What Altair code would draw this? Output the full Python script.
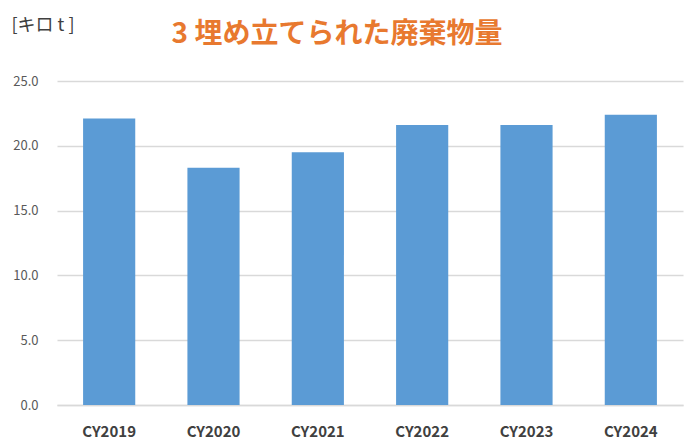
import altair as alt
import pandas as pd

years = ["CY2019", "CY2020", "CY2021", "CY2022", "CY2023", "CY2024"]
values = [22.1, 18.3, 19.5, 21.6, 21.6, 22.4]
title_text = "3 埋め立てられた廃棄物量"
unit_text = "[キロ t ]"

df = pd.DataFrame({"year": years, "value": values})

FONT = "Noto Sans CJK JP"

chart = alt.Chart(df).mark_bar(color="#5B9BD5").encode(
    x=alt.X("year:N", sort=years, title=None,
            scale=alt.Scale(paddingInner=0.5, paddingOuter=0.25),
            axis=alt.Axis(labelAngle=0, labelFont=FONT, labelFontSize=15,
                          labelFontWeight="bold", labelColor="#404040",
                          labelPadding=19, ticks=False, domainColor="#D9D9D9",
                          domainWidth=1.5)),
    y=alt.Y("value:Q", title=unit_text,
            scale=alt.Scale(domain=[0, 25]),
            axis=alt.Axis(values=[0, 5, 10, 15, 20, 25], format=".1f",
                          labelFont=FONT, labelFontSize=13, labelColor="#595959",
                          labelPadding=19, ticks=False, domain=False,
                          gridColor="#D9D9D9", gridWidth=1.5,
                          titleAngle=0, titleAlign="left", titleBaseline="alphabetic",
                          titleX=-46, titleY=-51, titleFont=FONT, titleFontSize=18,
                          titleFontWeight="normal", titleColor="#404040")),
).properties(
    width=626, height=324,
    title=alt.TitleParams(title_text, font=FONT, fontSize=28, fontWeight="bold",
                          color="#E8792F", anchor="middle", dx=-33, dy=69, offset=36),
    autosize=alt.AutoSizeParams(type="none"),
    padding={"left": 49, "top": 73, "right": 9, "bottom": 34},
).configure_view(stroke=None)

chart.save("out.html", embed_options={"renderer": "svg", "actions": False})
